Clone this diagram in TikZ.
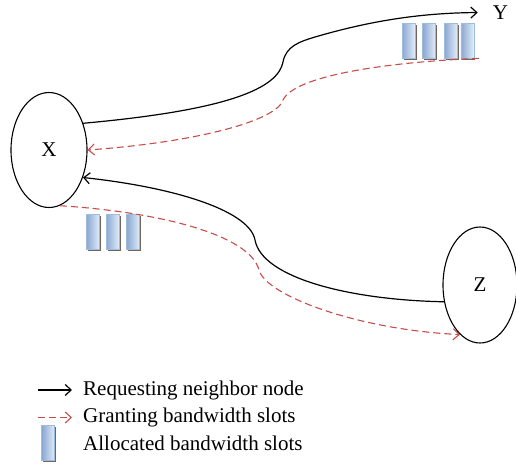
\documentclass[tikz,border=0pt]{standalone}
\usepackage{fontspec}
\setmainfont{Liberation Serif}
\usetikzlibrary{shapes,arrows.meta,shadows,positioning}
\definecolor{grant}{RGB}{198,78,74}
\definecolor{slotdark}{RGB}{138,168,210}
\definecolor{slotlight}{RGB}{226,236,247}
\definecolor{slotedge}{RGB}{158,188,222}
\definecolor{slotshadow}{RGB}{112,102,92}
\begin{document}
\begin{tikzpicture}[x=1pt, y=-1pt, font=\fontsize{21}{25}\selectfont,
    station/.style={draw, ellipse, line width=1.1pt, inner sep=0pt},
    label/.style={inner sep=2pt},
    slot/.style={draw=slotedge, line width=0.6pt, minimum width=13pt, minimum height=35pt, inner sep=0pt,
      left color=slotdark, right color=slotlight,
      general shadow={fill=slotshadow, shadow xshift=1.5pt, shadow yshift=-1.5pt}},
    req/.style={line width=1.2pt, -{Straight Barb[length=6pt, width=11pt]}},
    grt/.style={grant, line width=1.1pt, dash pattern=on 7pt off 4pt, -{Straight Barb[length=6pt, width=11pt]}}]
  \useasboundingbox (0,0) rectangle (516,466);
  \node[station, minimum width=76pt, minimum height=115pt] (X) at (49,150) {X};
  \node[station, minimum width=74pt, minimum height=116pt] (Z) at (480,285) {Z};
  \node[label] (Y) at (500.5,12.5) {Y};
  \node[slot] (Y1) at (408.5,40.5) {};
  \node[slot, right=7pt of Y1] (Y2) {};
  \node[slot, right=8pt of Y2] (Y3) {};
  \node[slot, right=3pt of Y3] (Y4) {};
  \node[slot] (X1) at (93,231.5) {};
  \node[slot, right=6pt of X1] (X2) {};
  \node[slot, right=7pt of X2] (X3) {};
  \draw[req] (X.38) .. controls (230,110) and (278,88) .. (283,62)
    .. controls (286,46) and (300,41.5) .. (315,37)
    .. controls (380,18) and (430,13) .. ([xshift=-13pt]Y.west);
  \draw[grt] ([xshift=5pt]Y4.south east) .. controls (390,62) and (295,75) .. (283,100)
    .. controls (277,120) and (200,142) .. (X.east);
  \draw[req] (Z.205) .. controls (350,300) and (262,278) .. (255,240)
    .. controls (250,212) and (180,188) .. (X.-39);
  \draw[grt] (X.-79) .. controls (160,212) and (250,235) .. (259,270)
    .. controls (266,296) and (360,330) .. (Z.248);
  \node[anchor=base west, inner sep=3pt] (lreq) at (80,395) {Requesting neighbor node};
  \node[anchor=base west, inner sep=3pt] (lgrant) at ([yshift=-27.5pt]lreq.base west) {Granting bandwidth slots};
  \node[anchor=base west, inner sep=3pt] (lalloc) at ([yshift=-27.5pt]lgrant.base west) {Allocated bandwidth slots};
  \draw[req] ([xshift=-42pt]lreq.west) -- ([xshift=-8pt]lreq.west);
  \draw[grt] ([xshift=-42pt]lgrant.west) -- ([xshift=-8pt]lgrant.west);
  \node[slot, left=25pt of lalloc] (lslot) {};
\end{tikzpicture}
\end{document}
